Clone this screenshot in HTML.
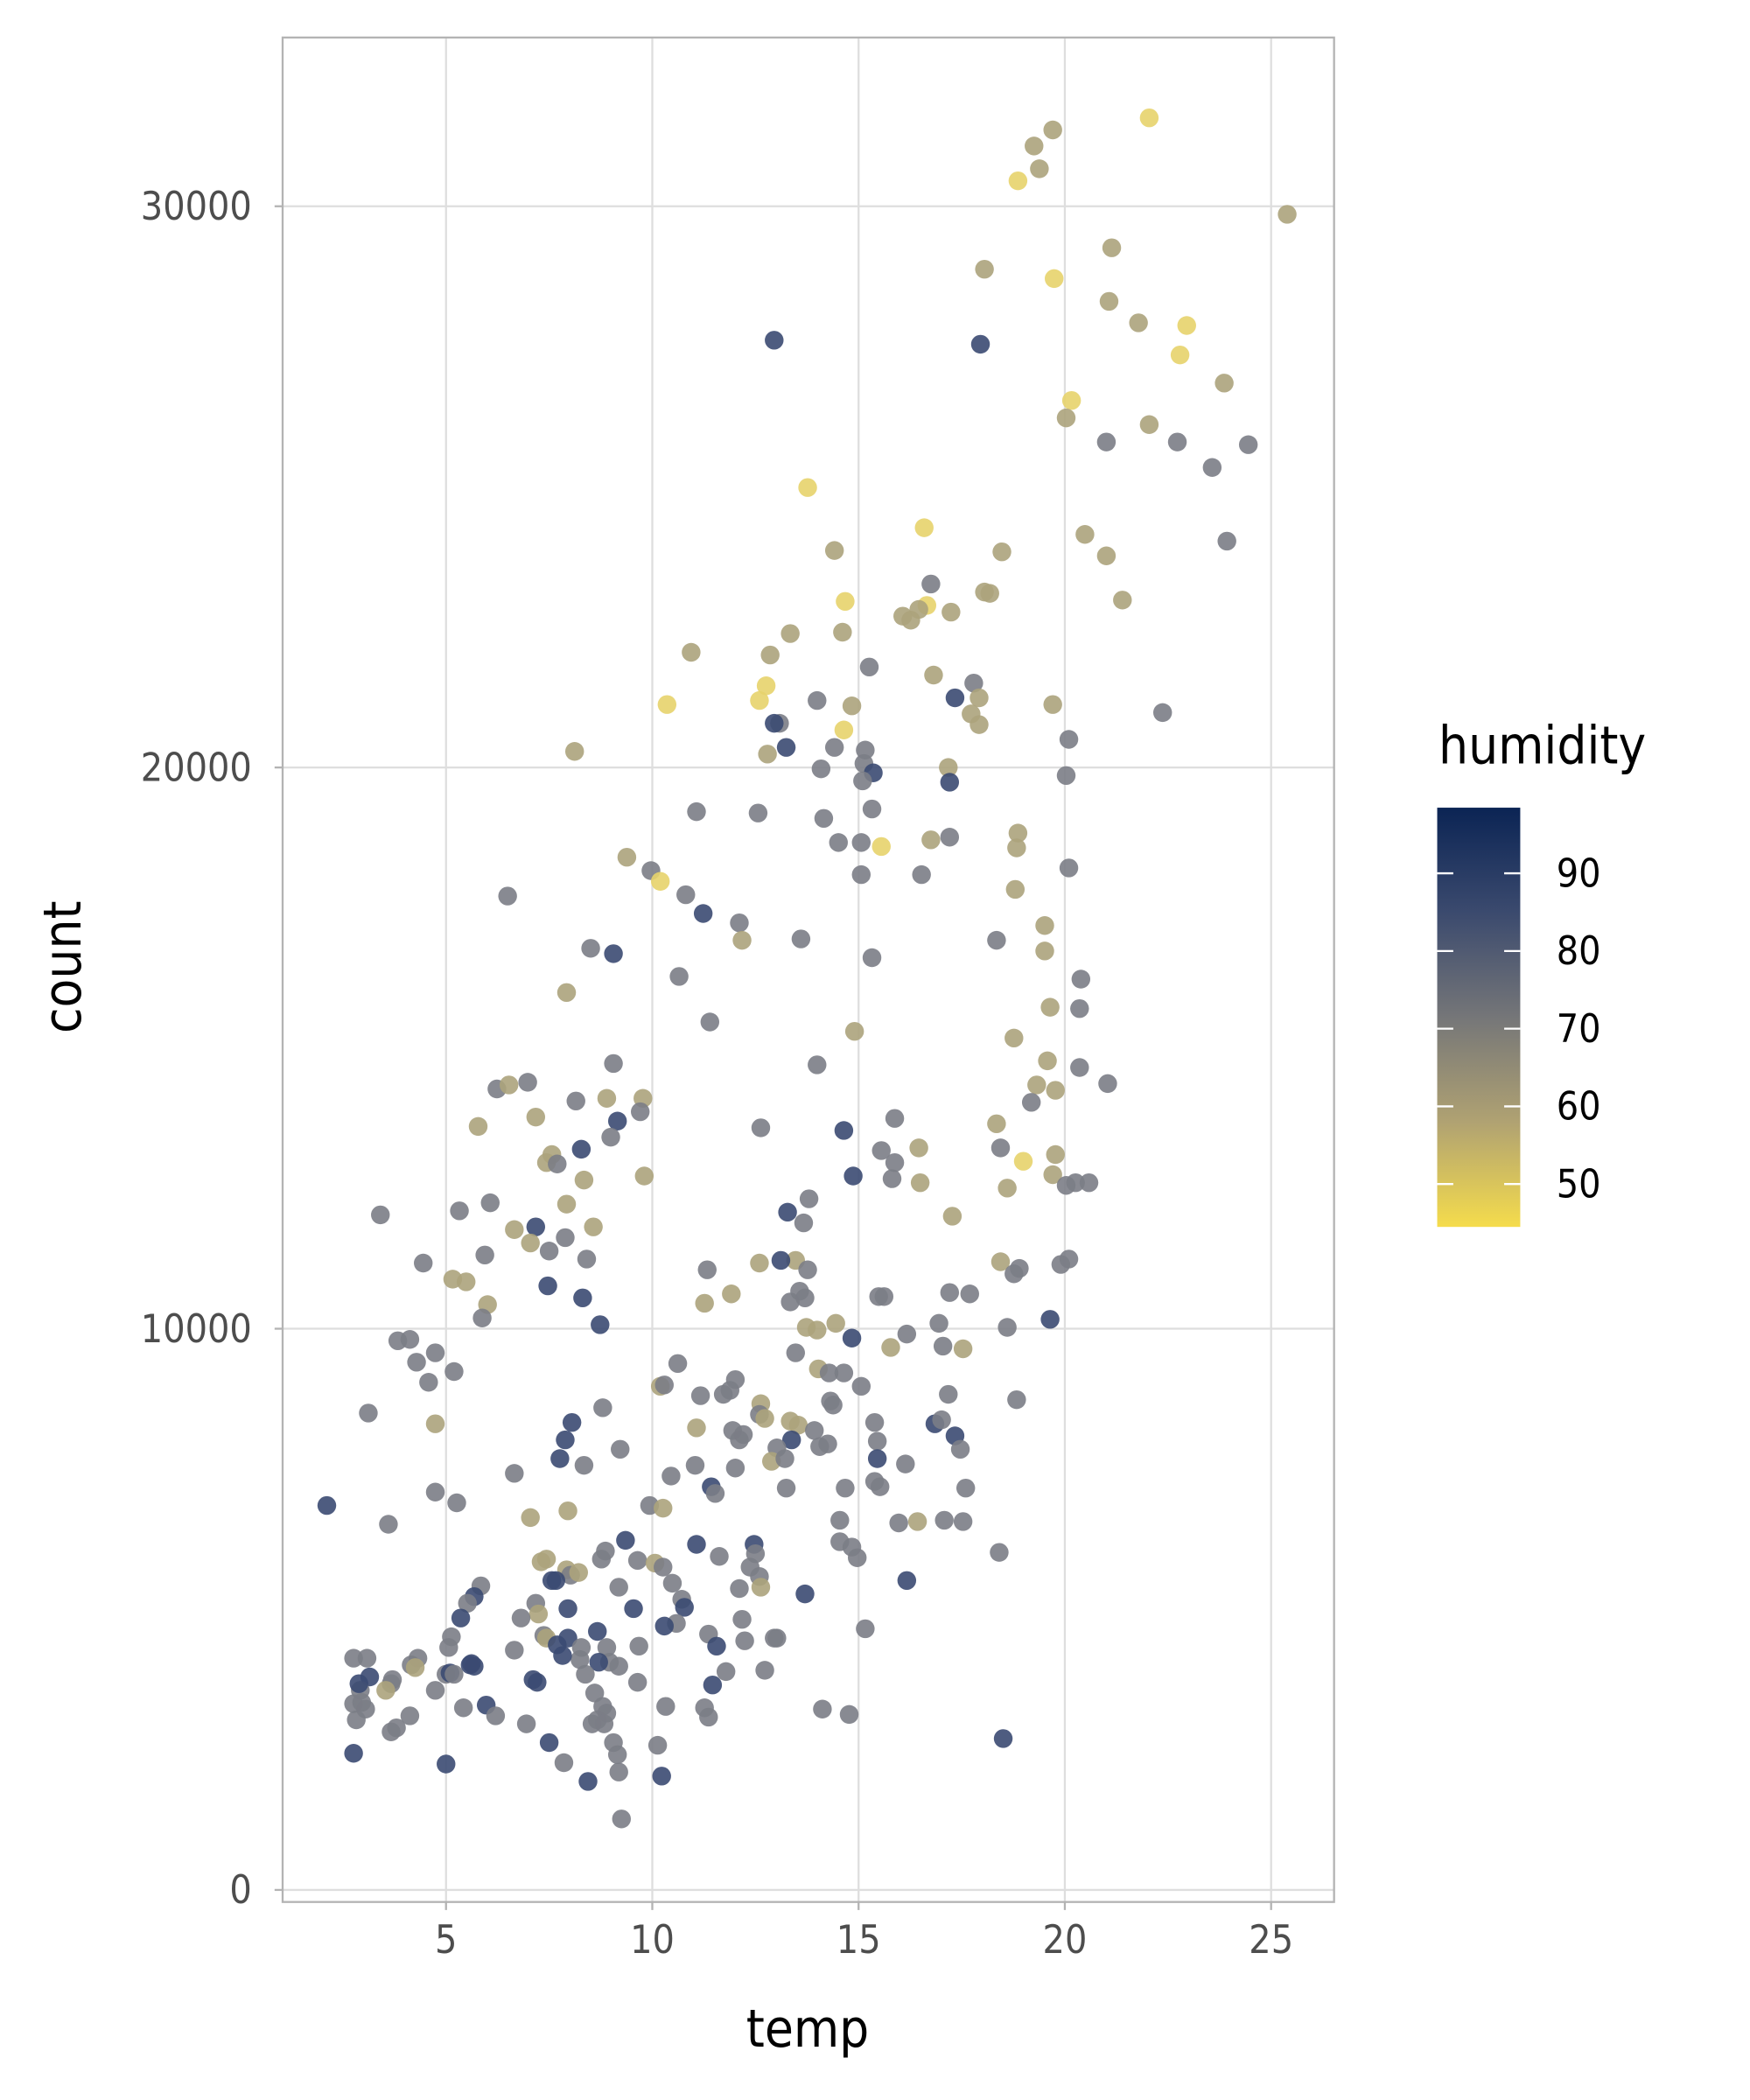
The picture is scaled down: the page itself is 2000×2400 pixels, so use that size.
<!DOCTYPE html>
<html><head><meta charset="utf-8"><style>
html,body{margin:0;padding:0;background:#fff}
svg{display:block}
text{font-family:"DejaVu Sans Condensed","Liberation Sans",sans-serif}
</style></head><body>
<svg id="s" width="2000" height="2400" viewBox="0 0 1300 1560" xmlns="http://www.w3.org/2000/svg">
<defs><linearGradient id="cg" x1="0" y1="0" x2="0" y2="1">
<stop offset="0" stop-color="#0b2454"/><stop offset="0.25" stop-color="#3b4a6e"/><stop offset="0.5" stop-color="#757678"/><stop offset="0.75" stop-color="#b0a272"/><stop offset="1" stop-color="#f5dc4c"/></linearGradient></defs>
<rect x="0" y="0" width="1300" height="1560" fill="#fff"/>
<g transform="scale(0.995)">
<g stroke="#dedede" stroke-width="1.5">
<line x1="333" y1="28" x2="333" y2="1420"/><line x1="487" y1="28" x2="487" y2="1420"/><line x1="641" y1="28" x2="641" y2="1420"/><line x1="795" y1="28" x2="795" y2="1420"/><line x1="949" y1="28" x2="949" y2="1420"/>
<line x1="211" y1="1411" x2="996" y2="1411"/><line x1="211" y1="992" x2="996" y2="992"/><line x1="211" y1="573" x2="996" y2="573"/><line x1="211" y1="154" x2="996" y2="154"/>
</g>
<g id="pts"></g>
<rect x="211" y="28" width="785" height="1392" fill="none" stroke="#b3b3b3" stroke-width="1.5"/>
<g stroke="#b3b3b3" stroke-width="1.5">
<line x1="333" y1="1420" x2="333" y2="1426"/><line x1="487" y1="1420" x2="487" y2="1426"/><line x1="641" y1="1420" x2="641" y2="1426"/><line x1="795" y1="1420" x2="795" y2="1426"/><line x1="949" y1="1420" x2="949" y2="1426"/>
<line x1="205" y1="1411" x2="211" y2="1411"/><line x1="205" y1="992" x2="211" y2="992"/><line x1="205" y1="573" x2="211" y2="573"/><line x1="205" y1="154" x2="211" y2="154"/>
</g>
<g fill="#4d4d4d" font-size="29">
<text x="333" y="1458" text-anchor="middle">5</text><text x="487" y="1458" text-anchor="middle">10</text><text x="641" y="1458" text-anchor="middle">15</text><text x="795" y="1458" text-anchor="middle">20</text><text x="949" y="1458" text-anchor="middle">25</text>
<text x="188" y="1421" text-anchor="end">0</text><text x="188" y="1002" text-anchor="end">10000</text><text x="188" y="583" text-anchor="end">20000</text><text x="188" y="164" text-anchor="end">30000</text>
</g>
<text x="603" y="1528" text-anchor="middle" font-size="39" fill="#000">temp</text>
<text transform="translate(60,722) rotate(-90)" text-anchor="middle" font-size="39" fill="#000">count</text>
<text x="1074" y="570" font-size="39" fill="#000">humidity</text>
<rect x="1073" y="603" width="62" height="313" fill="url(#cg)"/>
<g stroke="#fff" stroke-width="1.5">
<line x1="1073" y1="652" x2="1085" y2="652"/><line x1="1123" y1="652" x2="1135" y2="652"/>
<line x1="1073" y1="710" x2="1085" y2="710"/><line x1="1123" y1="710" x2="1135" y2="710"/>
<line x1="1073" y1="768" x2="1085" y2="768"/><line x1="1123" y1="768" x2="1135" y2="768"/>
<line x1="1073" y1="826" x2="1085" y2="826"/><line x1="1123" y1="826" x2="1135" y2="826"/>
<line x1="1073" y1="884" x2="1085" y2="884"/><line x1="1123" y1="884" x2="1135" y2="884"/>
</g>
<g fill="#000" font-size="29">
<text x="1162" y="662">90</text><text x="1162" y="720">80</text><text x="1162" y="778">70</text><text x="1162" y="836">60</text><text x="1162" y="894">50</text>
</g>
</g>
</svg>
<script>
var P=[[858,88,'y'],[786,97,'o'],[772,109,'o'],[760,135,'y'],[776,126,'o'],[961,160,'o'],[830,185,'o'],[735,201,'o'],[787,208,'y'],[828,225,'o'],[850,241,'o'],[886,243,'y'],[881,265,'y'],[732,257,'d'],[578,254,'d'],[914,286,'o'],[800,299,'y'],[796,312,'o'],[826,330,'g'],[858,317,'o'],[879,330,'g'],[932,332,'g'],[905,349,'g'],[603,364,'y'],[690,394,'y'],[810,399,'o'],[826,415,'o'],[916,404,'g'],[623,411,'o'],[748,412,'o'],[695,436,'g'],[735,442,'o'],[739,443,'o'],[631,449,'y'],[838,448,'o'],[692,452,'y'],[686,455,'o'],[674,460,'o'],[680,463,'o'],[710,457,'o'],[629,472,'o'],[590,473,'o'],[516,487,'o'],[575,489,'o'],[649,498,'g'],[697,504,'o'],[727,510,'g'],[572,512,'y'],[567,523,'y'],[498,526,'y'],[610,523,'g'],[636,527,'o'],[713,521,'d'],[731,521,'o'],[725,533,'o'],[786,526,'o'],[868,532,'g'],[582,540,'g'],[578,540,'d'],[731,541,'o'],[630,545,'y'],[623,558,'g'],[587,558,'d'],[646,560,'g'],[573,563,'o'],[429,561,'o'],[798,552,'g'],[645,570,'g'],[652,577,'d'],[613,574,'g'],[708,573,'o'],[709,584,'d'],[644,583,'g'],[796,579,'g'],[520,606,'g'],[566,607,'g'],[615,611,'g'],[651,604,'g'],[626,629,'g'],[643,629,'g'],[658,632,'y'],[760,622,'o'],[695,627,'o'],[709,625,'g'],[759,633,'o'],[468,640,'o'],[486,650,'g'],[493,658,'y'],[379,669,'g'],[512,668,'g'],[643,653,'g'],[688,653,'g'],[798,648,'g'],[758,664,'o'],[525,682,'d'],[552,689,'g'],[780,691,'o'],[554,702,'o'],[598,701,'g'],[744,702,'g'],[441,708,'g'],[458,712,'d'],[651,715,'g'],[780,710,'o'],[507,729,'g'],[807,731,'g'],[423,741,'o'],[784,752,'o'],[806,753,'g'],[530,763,'g'],[638,770,'o'],[757,775,'o'],[394,808,'g'],[458,794,'g'],[610,795,'g'],[782,792,'o'],[806,797,'g'],[371,813,'g'],[380,810,'o'],[430,822,'g'],[453,820,'o'],[480,820,'o'],[774,810,'o'],[827,809,'g'],[400,834,'o'],[357,841,'o'],[478,830,'g'],[461,837,'d'],[456,849,'g'],[568,842,'g'],[630,844,'d'],[668,835,'g'],[744,839,'o'],[770,823,'g'],[788,814,'o'],[434,858,'d'],[412,862,'o'],[408,868,'o'],[658,859,'g'],[686,857,'o'],[747,857,'g'],[788,862,'o'],[764,867,'y'],[416,869,'g'],[436,881,'o'],[481,878,'o'],[666,880,'g'],[637,878,'d'],[668,868,'g'],[687,883,'o'],[752,887,'o'],[786,877,'o'],[796,885,'g'],[803,883,'g'],[813,883,'g'],[604,895,'g'],[284,907,'g'],[423,899,'o'],[343,904,'g'],[366,898,'g'],[711,908,'o'],[588,905,'d'],[600,913,'g'],[400,916,'d'],[384,918,'o'],[443,916,'o'],[422,924,'g'],[396,928,'o'],[410,934,'g'],[362,937,'g'],[316,943,'g'],[438,940,'g'],[567,943,'o'],[594,941,'o'],[583,941,'d'],[603,948,'g'],[528,948,'g'],[747,942,'o'],[757,951,'g'],[761,947,'g'],[792,944,'g'],[798,940,'g'],[338,955,'o'],[348,957,'o'],[409,960,'d'],[546,966,'o'],[435,969,'d'],[597,964,'g'],[590,972,'g'],[601,969,'g'],[656,968,'g'],[660,968,'g'],[709,965,'g'],[724,966,'g'],[526,973,'o'],[364,974,'o'],[360,984,'g'],[448,989,'d'],[602,991,'o'],[610,993,'o'],[624,988,'o'],[752,991,'g'],[784,985,'d'],[297,1001,'g'],[306,1000,'g'],[636,999,'d'],[311,1017,'g'],[325,1010,'g'],[320,1032,'g'],[339,1024,'g'],[594,1010,'g'],[665,1006,'o'],[677,996,'g'],[701,988,'g'],[704,1005,'g'],[719,1007,'o'],[506,1018,'g'],[611,1022,'o'],[619,1025,'g'],[630,1025,'g'],[643,1035,'g'],[493,1035,'o'],[496,1034,'g'],[549,1030,'g'],[545,1038,'g'],[540,1041,'g'],[523,1042,'g'],[620,1046,'g'],[622,1049,'g'],[708,1041,'g'],[759,1045,'g'],[450,1051,'g'],[275,1055,'g'],[568,1048,'o'],[567,1056,'g'],[571,1059,'o'],[590,1061,'o'],[596,1064,'o'],[653,1062,'g'],[427,1062,'d'],[325,1063,'o'],[520,1066,'o'],[547,1068,'g'],[552,1075,'g'],[555,1071,'g'],[698,1063,'d'],[703,1060,'g'],[713,1072,'d'],[608,1068,'g'],[591,1075,'d'],[655,1076,'g'],[717,1082,'g'],[655,1089,'d'],[422,1075,'d'],[418,1089,'d'],[436,1094,'g'],[463,1082,'g'],[580,1081,'g'],[576,1091,'o'],[586,1089,'g'],[612,1080,'g'],[618,1078,'g'],[519,1094,'g'],[501,1102,'g'],[549,1096,'g'],[384,1100,'g'],[325,1114,'g'],[341,1122,'g'],[587,1111,'g'],[531,1110,'d'],[534,1115,'g'],[653,1106,'g'],[657,1110,'g'],[631,1111,'g'],[676,1093,'g'],[721,1111,'g'],[244,1124,'d'],[290,1138,'g'],[396,1133,'o'],[424,1128,'o'],[485,1124,'g'],[495,1126,'o'],[627,1135,'g'],[671,1137,'g'],[685,1136,'o'],[705,1135,'g'],[719,1136,'g'],[467,1150,'d'],[520,1153,'d'],[563,1153,'d'],[564,1160,'g'],[627,1151,'g'],[636,1155,'g'],[640,1163,'g'],[746,1159,'g'],[404,1166,'o'],[408,1164,'o'],[449,1164,'g'],[452,1158,'g'],[476,1165,'g'],[489,1167,'o'],[495,1170,'g'],[537,1162,'g'],[560,1170,'g'],[567,1177,'g'],[423,1172,'o'],[426,1176,'g'],[432,1174,'o'],[415,1180,'d'],[412,1180,'d'],[462,1185,'g'],[502,1182,'g'],[552,1186,'g'],[568,1185,'o'],[677,1180,'d'],[359,1184,'g'],[354,1192,'d'],[349,1197,'g'],[400,1197,'g'],[402,1205,'o'],[424,1201,'d'],[473,1201,'d'],[509,1194,'g'],[511,1200,'d'],[601,1190,'d'],[344,1208,'d'],[389,1208,'g'],[505,1212,'g'],[496,1214,'d'],[554,1209,'g'],[646,1216,'g'],[337,1222,'g'],[406,1221,'g'],[408,1223,'o'],[424,1223,'d'],[446,1218,'d'],[580,1223,'g'],[578,1223,'g'],[529,1220,'g'],[335,1230,'g'],[384,1232,'g'],[416,1228,'d'],[434,1230,'g'],[453,1230,'g'],[477,1229,'g'],[535,1229,'d'],[556,1225,'g'],[264,1238,'g'],[274,1238,'g'],[312,1238,'g'],[307,1243,'g'],[310,1245,'o'],[351,1243,'d'],[352,1242,'d'],[354,1244,'d'],[455,1241,'g'],[462,1244,'g'],[447,1241,'d'],[433,1239,'g'],[437,1250,'g'],[333,1250,'g'],[336,1249,'d'],[339,1250,'g'],[420,1236,'d'],[276,1252,'d'],[269,1262,'g'],[293,1254,'g'],[292,1257,'g'],[268,1257,'d'],[398,1254,'d'],[401,1256,'d'],[476,1256,'g'],[542,1248,'g'],[571,1247,'g'],[288,1262,'o'],[325,1262,'g'],[444,1264,'g'],[532,1258,'d'],[270,1271,'g'],[264,1272,'g'],[273,1276,'g'],[346,1275,'g'],[363,1273,'d'],[370,1281,'g'],[450,1274,'g'],[453,1279,'g'],[497,1274,'g'],[526,1275,'g'],[529,1282,'g'],[614,1276,'g'],[634,1280,'g'],[306,1281,'g'],[266,1284,'g'],[296,1290,'g'],[292,1293,'g'],[393,1287,'g'],[442,1287,'g'],[446,1284,'g'],[451,1287,'g'],[410,1301,'d'],[458,1301,'g'],[461,1310,'g'],[749,1298,'d'],[264,1309,'d'],[491,1303,'g'],[421,1316,'g'],[333,1317,'d'],[462,1323,'g'],[494,1326,'d'],[439,1330,'d'],[464,1358,'g']];
var C={d:'#3b4a72',g:'#7b7d86',o:'#aca37c',y:'#e7d36c'};
var g=document.getElementById('pts'),h='';
for(var i=0;i<P.length;i++){h+='<circle cx="'+P[i][0]+'" cy="'+P[i][1]+'" r="7" fill="'+C[P[i][2]]+'" fill-opacity="0.9"/>';}
g.innerHTML=h;
</script>
</body></html>
